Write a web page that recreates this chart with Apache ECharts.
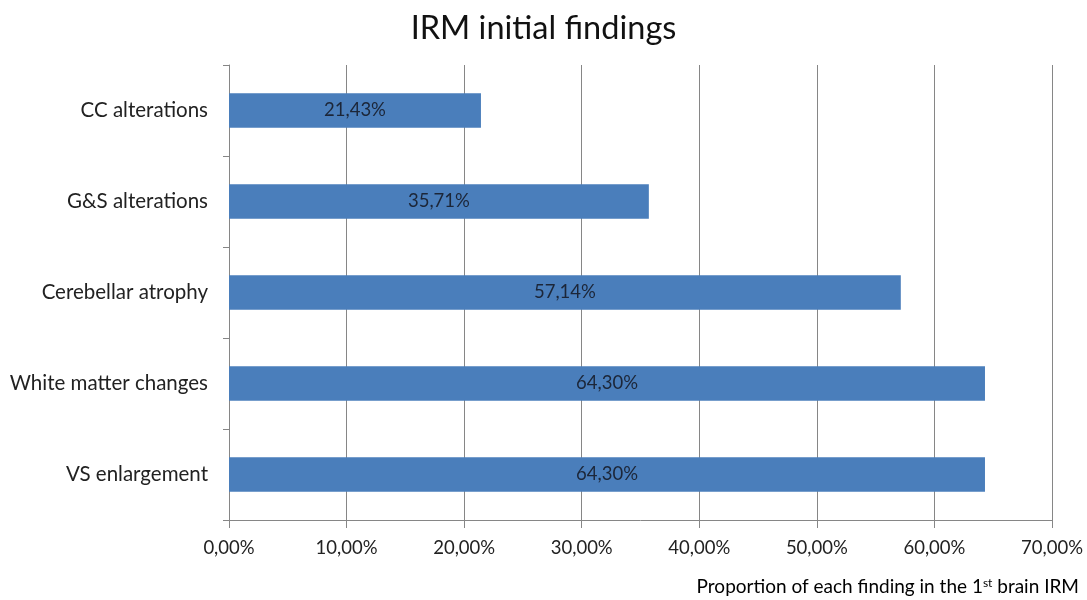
<!DOCTYPE html>
<html>
<head>
<meta charset="utf-8">
<script src="https://cdn.jsdelivr.net/npm/echarts@6/dist/echarts.min.js"></script>
<style>
  html, body { margin: 0; padding: 0; background: #fff; }
  #chart { width: 1087px; height: 600px; }
</style>
</head>
<body>
<div id="chart"></div>
<script>
// Findings, listed bottom to top as the category axis draws them
const categories = ['VS enlargement', 'White matter changes', 'Cerebellar atrophy', 'G&S alterations', 'CC alterations'];
const proportions = [64.30, 64.30, 57.14, 35.71, 21.43];
const axisTicks = [0, 10, 20, 30, 40, 50, 60, 70];

const FONT = 'Lato, "Open Sans", sans-serif';
const fmt = v => v.toFixed(2).replace('.', ',') + '%';

const chart = echarts.init(document.getElementById('chart'));
chart.setOption({
  animation: false,
  title: {
    text: 'IRM initial findings',
    left: 'center',
    top: 7,
    textStyle: { fontFamily: FONT, fontSize: 32.5, fontWeight: 'normal', color: '#111' }
  },
  grid: { left: 229, right: 35, top: 65, bottom: 80, containLabel: false },
  xAxis: {
    type: 'value',
    min: axisTicks[0],
    max: axisTicks[axisTicks.length - 1],
    interval: 10,
    axisLine: { show: true, lineStyle: { color: '#868686', width: 1 } },
    axisTick: { show: true, length: 8, lineStyle: { color: '#868686' } },
    axisLabel: {
      formatter: v => fmt(v),
      fontFamily: FONT, fontSize: 18.5, color: '#222', margin: 19
    },
    splitLine: { show: true, lineStyle: { color: '#868686', width: 1 } }
  },
  yAxis: {
    type: 'category',
    data: categories,
    axisLine: { show: true, lineStyle: { color: '#868686', width: 1 } },
    axisTick: { show: true, length: 6, lineStyle: { color: '#868686' } },
    axisLabel: { fontFamily: FONT, fontSize: 20.5, color: '#222', margin: 21 }
  },
  series: [{
    type: 'bar',
    data: proportions,
    barCategoryGap: '62%',
    itemStyle: { color: '#4A7EBB' },
    label: {
      show: true,
      position: 'inside',
      formatter: p => fmt(p.value),
      fontFamily: FONT, fontSize: 18.5, color: '#1C2638'
    }
  }],
  graphic: [{
    type: 'text',
    right: 8,
    top: 577,
    style: {
      text: '{a|Proportion of each finding in the 1}{s|st}{a| brain IRM}',
      rich: {
        a: { fontFamily: FONT, fontSize: 19, color: '#222' },
        s: { fontFamily: FONT, fontSize: 12, color: '#222', verticalAlign: 'top', padding: [0, 0, 8, 0] }
      }
    }
  }]
});
</script>
</body>
</html>
